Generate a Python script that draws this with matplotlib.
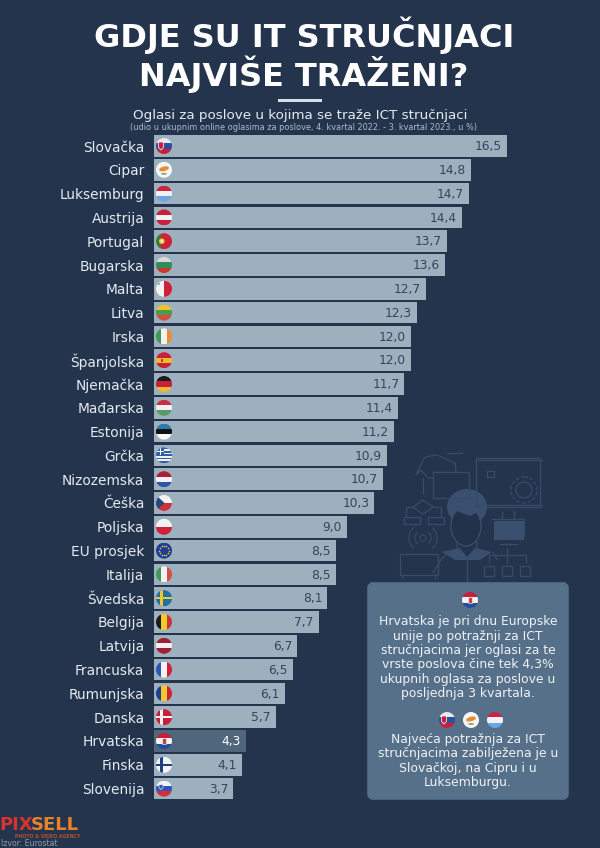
import numpy as np
import matplotlib
matplotlib.use("Agg")
import matplotlib.pyplot as plt
from matplotlib.patches import Arc, Circle, Rectangle, Polygon, FancyBboxPatch, Ellipse

countries = [
    "Slovačka", "Cipar", "Luksemburg", "Austrija", "Portugal", "Bugarska",
    "Malta", "Litva", "Irska", "Španjolska", "Njemačka", "Mađarska",
    "Estonija", "Grčka", "Nizozemska", "Češka", "Poljska", "EU prosjek",
    "Italija", "Švedska", "Belgija", "Latvija", "Francuska", "Rumunjska",
    "Danska", "Hrvatska", "Finska", "Slovenija",
]
values = [
    16.5, 14.8, 14.7, 14.4, 13.7, 13.6, 12.7, 12.3, 12.0, 12.0, 11.7, 11.4,
    11.2, 10.9, 10.7, 10.3, 9.0, 8.5, 8.5, 8.1, 7.7, 6.7, 6.5, 6.1, 5.7,
    4.3, 4.1, 3.7,
]
flag_codes = [
    "sk", "cy", "lu", "at", "pt", "bg", "mt", "lt", "ie", "es", "de", "hu",
    "ee", "gr", "nl", "cz", "pl", "eu", "it", "se", "be", "lv", "fr", "ro",
    "dk", "hr", "fi", "si",
]

title_lines = ["GDJE SU IT STRUČNJACI", "NAJVIŠE TRAŽENI?"]
subtitle = "Oglasi za poslove u kojima se traže ICT stručnjaci"
subtitle2 = "(udio u ukupnim online oglasima za poslove, 4. kvartal 2022. - 3. kvartal 2023., u %)"
box_text1 = [
    "Hrvatska je pri dnu Europske", "unije po potražnji za ICT",
    "stručnjacima jer oglasi za te", "vrste poslova čine tek 4,3%",
    "ukupnih oglasa za poslove u", "posljednja 3 kvartala.",
]
box_text2 = [
    "Najveća potražnja za ICT", "stručnjacima zabilježena je u",
    "Slovačkoj, na Cipru i u", "Luksemburgu.",
]

# stripes, top to bottom or left to right
h_stripes = {
    "sk": ["#e8e8ee", "#2c4f9e", "#c8203a"], "lu": ["#cf2440", "#f2f2f2", "#6aa5e8"],
    "at": ["#c8203a", "#f2f2f2", "#c8203a"], "bg": ["#d8d8d8", "#2f8f5b", "#c8392b"],
    "lt": ["#e9c42c", "#4f9a4e", "#d0503f"], "es": ["#c8203a", "#f0b92d", "#c8203a"],
    "de": ["#1c1c1c", "#c8203a", "#f0b92d"], "hu": ["#c8304a", "#f2f2f2", "#5a9a62"],
    "ee": ["#2a7ab0", "#111111", "#f8f8f8"], "nl": ["#a8203a", "#f2f2f2", "#2f55a8"],
    "pl": ["#f2f2f2", "#d0203a"],
    "lv": ["#9e2038", "#f2f2f2", "#9e2038"], "hr": ["#c8203a", "#f2f2f2", "#1f4f9e"],
    "si": ["#f2f2f2", "#2f55b8", "#d0303a"], "dk": ["#c8203a"], "se": ["#1f6fa8"],
    "fi": ["#f4f4f4"], "gr": ["#f2f2f2"], "cy": ["#f6f6f6"], "eu": ["#1c3c9a"],
}
v_stripes = {
    "ie": ["#3f9a5a", "#f2f2f2", "#ef8a34"], "it": ["#3f9a5a", "#f2f2f2", "#d8503f"],
    "be": ["#1a1a1a", "#f0c92d", "#d0303a"], "fr": ["#2a55b0", "#f2f2f2", "#d0203a"],
    "ro": ["#1f3f90", "#f0c92d", "#d0203a"], "mt": ["#f2f2f2", "#d0203a"],
    "pt": ["#3a7a3a", "#d0203a", "#d0203a"], "cz": ["#f2f2f2"],
}

plt.rcParams["font.family"] = ["DejaVu Sans"]

BG = "#24344d"
BAR = "#9db0bd"
BAR_HR = "#4f667c"
PANEL = "#56708a"
LABEL = "#e4eaf0"
DARK = "#33465c"
LINE = "#374c68"
SHAPE = "#3b506e"

W, H = 600, 848
fig = plt.figure(figsize=(W / 100, H / 100), dpi=100, facecolor=BG)

# overlay in pixel coordinates for the decoration
deco = fig.add_axes([0, 0, 1, 1], zorder=1)
deco.set_xlim(0, W)
deco.set_ylim(H, 0)
deco.axis("off")

row_h = 23.8
first_row = 146.0
ax_left = 154
px_per_unit = 21.4
ax_w = 18 * px_per_unit
ax_top = first_row - row_h / 2
ax_h = row_h * len(countries)

ax = fig.add_axes([ax_left / W, 1 - (ax_top + ax_h) / H, ax_w / W, ax_h / H], zorder=2)
ax.patch.set_alpha(0)
ax.set_xlim(0, 18)
ax.set_ylim(len(countries) - 0.5, -0.5)
for s in ax.spines.values():
    s.set_visible(False)
ax.xaxis.set_visible(False)

ypos = np.arange(len(countries))
colors = [BAR_HR if c == "Hrvatska" else BAR for c in countries]
ax.barh(ypos, values, height=0.9, color=colors)
ax.set_yticks(ypos)
ax.set_yticklabels(countries, fontsize=9.9, color=LABEL)
ax.tick_params(axis="y", length=0, pad=7)

for y, v, c in zip(ypos, values, countries):
    ax.annotate(
        f"{v:.1f}".replace(".", ","),
        (v, y), xytext=(-3.6, -0.5), textcoords="offset points",
        ha="right", va="center", fontsize=8.8,
        color="white" if c == "Hrvatska" else DARK,
    )

top = fig.add_axes([0, 0, 1, 1], zorder=3)
top.set_xlim(0, W)
top.set_ylim(H, 0)
top.axis("off")


def draw_flag(a, code, cx, cy, r):
    clip = Circle((cx, cy), r, transform=a.transData)

    def add(p):
        a.add_patch(p)
        p.set_clip_path(clip)

    if code in h_stripes:
        st = h_stripes[code]
        for i, c in enumerate(st):
            add(Rectangle((cx - r, cy - r + 2 * r * i / len(st)), 2 * r, 2 * r / len(st), color=c, lw=0))
    else:
        st = v_stripes[code]
        for i, c in enumerate(st):
            add(Rectangle((cx - r + 2 * r * i / len(st), cy - r), 2 * r / len(st), 2 * r, color=c, lw=0))

    if code == "sk":
        add(Polygon([(cx - 5.5, cy - 4), (cx - 0.5, cy - 4), (cx - 0.5, cy + 1.5), (cx - 3, cy + 4), (cx - 5.5, cy + 1.5)], fc="#c8203a", ec="white", lw=0.5))
    elif code == "cy":
        add(Ellipse((cx, cy - 1), 10, 4.5, angle=-15, color="#e88a30", lw=0))
        add(Ellipse((cx, cy + 4), 6, 2, color="#8aa878", lw=0))
    elif code == "pt":
        add(Circle((cx - 2.2, cy), 2.8, color="#f0c92d", lw=0))
        add(Circle((cx - 2.2, cy), 1.4, color="#e8e8e8", lw=0))
    elif code == "mt":
        add(Rectangle((cx - 6, cy - 5.5), 2.2, 2.2, color="#aaaaaa", lw=0))
    elif code == "es":
        add(Rectangle((cx - 3, cy - 1.5), 2.4, 3.2, color="#b04030", lw=0))
    elif code == "gr":
        for i in range(5):
            add(Rectangle((cx - r, cy - r + i * 3.4), 2 * r, 1.7, color="#2f5fa8", lw=0))
        add(Rectangle((cx - r, cy - r), r, r, color="#2f5fa8", lw=0))
        add(Rectangle((cx - r / 2 - 0.5, cy - r), 1, r, color="white", lw=0))
        add(Rectangle((cx - r, cy - r / 2 - 0.5), r, 1, color="white", lw=0))
    elif code == "cz":
        add(Rectangle((cx - r, cy), 2 * r, r, color="#d0303a", lw=0))
        add(Polygon([(cx - r, cy - r), (cx + 0.5, cy), (cx - r, cy + r)], color="#27487f", lw=0))
    elif code == "eu":
        ang = np.linspace(0, 2 * np.pi, 12, endpoint=False)
        a.scatter(cx + 4.8 * np.cos(ang), cy + 4.8 * np.sin(ang), s=1.4, color="#f0c92d", lw=0, zorder=5)
    elif code in ("se", "fi", "dk"):
        c = {"se": "#f0c92d", "fi": "#1f3f80", "dk": "#f4f4f4"}[code]
        add(Rectangle((cx - r, cy - 1.2), 2 * r, 2.4, color=c, lw=0))
        add(Rectangle((cx - 3.8, cy - r), 2.4, 2 * r, color=c, lw=0))
    elif code == "hr":
        add(Rectangle((cx - 2.2, cy - 3), 4.4, 5.6, fc="#c8404a", ec="white", lw=0.4))
    elif code == "si":
        add(Polygon([(cx - 5, cy - 4), (cx - 1, cy - 4), (cx - 1, cy - 1), (cx - 3, cy + 1), (cx - 5, cy - 1)], fc="#2f55b8", ec="white", lw=0.4))


for i, code in enumerate(flag_codes):
    draw_flag(top, code, 164, first_row + row_h * i, 8)

# title block
for line, yy in zip(title_lines, [35.5, 74]):
    deco.text(304, yy, line, ha="center", va="center", fontsize=23, fontweight="bold", color="white")
deco.add_patch(Rectangle((278, 99), 44, 3, color="#d5dfe8", lw=0))
deco.text(300, 115, subtitle, ha="center", va="center", fontsize=9.7, color=LABEL)
deco.text(304, 128, subtitle2, ha="center", va="center", fontsize=5.85, color="#aebbc8")


# faint illustration behind the panel
def ln(xs, ys, lw=0.9):
    deco.plot(xs, ys, color=LINE, lw=lw, solid_capstyle="round")


ln([476, 540, 540, 476, 476], [458, 458, 507, 507, 458])
ln([475, 542], [460, 460])
ln([475, 542], [505, 505])
deco.add_patch(Circle((524, 490), 8, fill=False, ec=LINE, lw=0.9))
deco.add_patch(Circle((524, 490), 13, fill=False, ec=LINE, lw=0.9, ls=(0, (3, 1.5))))
deco.add_patch(Rectangle((487, 471), 7, 6, fill=False, ec=LINE, lw=0.9))
ln([447, 462], [453, 453])
ln([434, 428, 421, 416, 424, 430, 437, 448, 455, 456], [478, 478, 470, 475, 458, 456, 455, 460, 463, 472])
ln([433, 469, 469, 433, 433], [472, 472, 498, 498, 472])
ln([423, 423], [478, 493])
deco.add_patch(Polygon([(423, 500), (433, 507), (423, 514), (413, 507)], fill=False, ec=LINE, lw=0.9))
ln([413, 406, 406], [507, 507, 517])
ln([433, 441, 441], [507, 507, 517])
deco.add_patch(Rectangle((404, 517), 16, 7, fill=False, ec=LINE, lw=0.9))
deco.add_patch(Rectangle((428, 517), 16, 7, fill=False, ec=LINE, lw=0.9))
deco.add_patch(Circle((423, 538), 3, fill=False, ec=LINE, lw=0.8))
for rad in (8, 14):
    deco.add_patch(Arc((423, 538), 2 * rad, 2 * rad, theta1=130, theta2=230, ec=LINE, lw=0.8))
    deco.add_patch(Arc((423, 538), 2 * rad, 2 * rad, theta1=-50, theta2=50, ec=LINE, lw=0.8))
ln([400, 438, 438, 400, 400], [554, 554, 575, 575, 554])
ln([402, 402], [575, 578])
ln([435, 435], [575, 578])
ln([489, 526], [555, 555])
ln([489, 489], [555, 563])
ln([507, 507], [548, 563])
ln([526, 526], [555, 563])
for xx in (484, 502, 520):
    deco.add_patch(Rectangle((xx, 566), 10, 10, fill=False, ec=LINE, lw=0.9))
deco.add_patch(Rectangle((494, 521), 30, 19, color=SHAPE, lw=0))
ln([492, 524, 524], [519, 519, 536])
ln([500, 518], [544, 544])
ln([502, 502], [511, 519])
ln([514, 514], [511, 519])
# person
deco.add_patch(Ellipse((467, 507), 40, 36, color=SHAPE, lw=0))
deco.add_patch(Ellipse((466, 526), 30, 40, fc="#22324a", ec=SHAPE, lw=0.9))
deco.add_patch(Polygon([(448, 508), (470, 516), (482, 510), (482, 498), (452, 498)], color=SHAPE, lw=0))
deco.add_patch(Polygon([(442, 552), (460, 548), (467, 557), (475, 548), (492, 552), (480, 560), (455, 560)], color=SHAPE, lw=0))
ln([433, 442, 450], [573, 558, 552])
ln([493, 497], [552, 560])
ln([467, 467], [558, 585])
ln([457, 457, 462], [541, 548, 552])
ln([477, 477, 472], [541, 548, 552])

# text panel
deco.add_patch(FancyBboxPatch((370, 585), 196, 212, boxstyle="round,pad=0,rounding_size=3",
                              facecolor=PANEL, edgecolor=PANEL, lw=4, zorder=3))
draw_flag(top, "hr", 470, 600, 8)
for x_f, code in zip([447, 471, 495], ["sk", "cy", "lu"]):
    draw_flag(top, code, x_f, 720, 8)
for i, line in enumerate(box_text1):
    top.text(468, 622 + 14.3 * i, line, ha="center", va="center", fontsize=8.9, color="#eef2f5")
for i, line in enumerate(box_text2):
    top.text(468, 739.5 + 14.4 * i, line, ha="center", va="center", fontsize=8.9, color="#eef2f5")

# logo and source
deco.text(-1, 825, "PIX", ha="left", va="center", fontsize=13, fontweight="bold", color="#d8332e")
deco.text(31, 825, "SELL", ha="left", va="center", fontsize=13, fontweight="bold", color="#e8812c")
deco.text(15, 836, "PHOTO & VIDEO AGENCY", ha="left", va="center", fontsize=3.4, fontweight="bold", color="#b5502c")
deco.text(1, 843, "Izvor: Eurostat", ha="left", va="center", fontsize=5.6, color="#8f9fb0")

fig.savefig("out.png", dpi=100, facecolor=BG)
